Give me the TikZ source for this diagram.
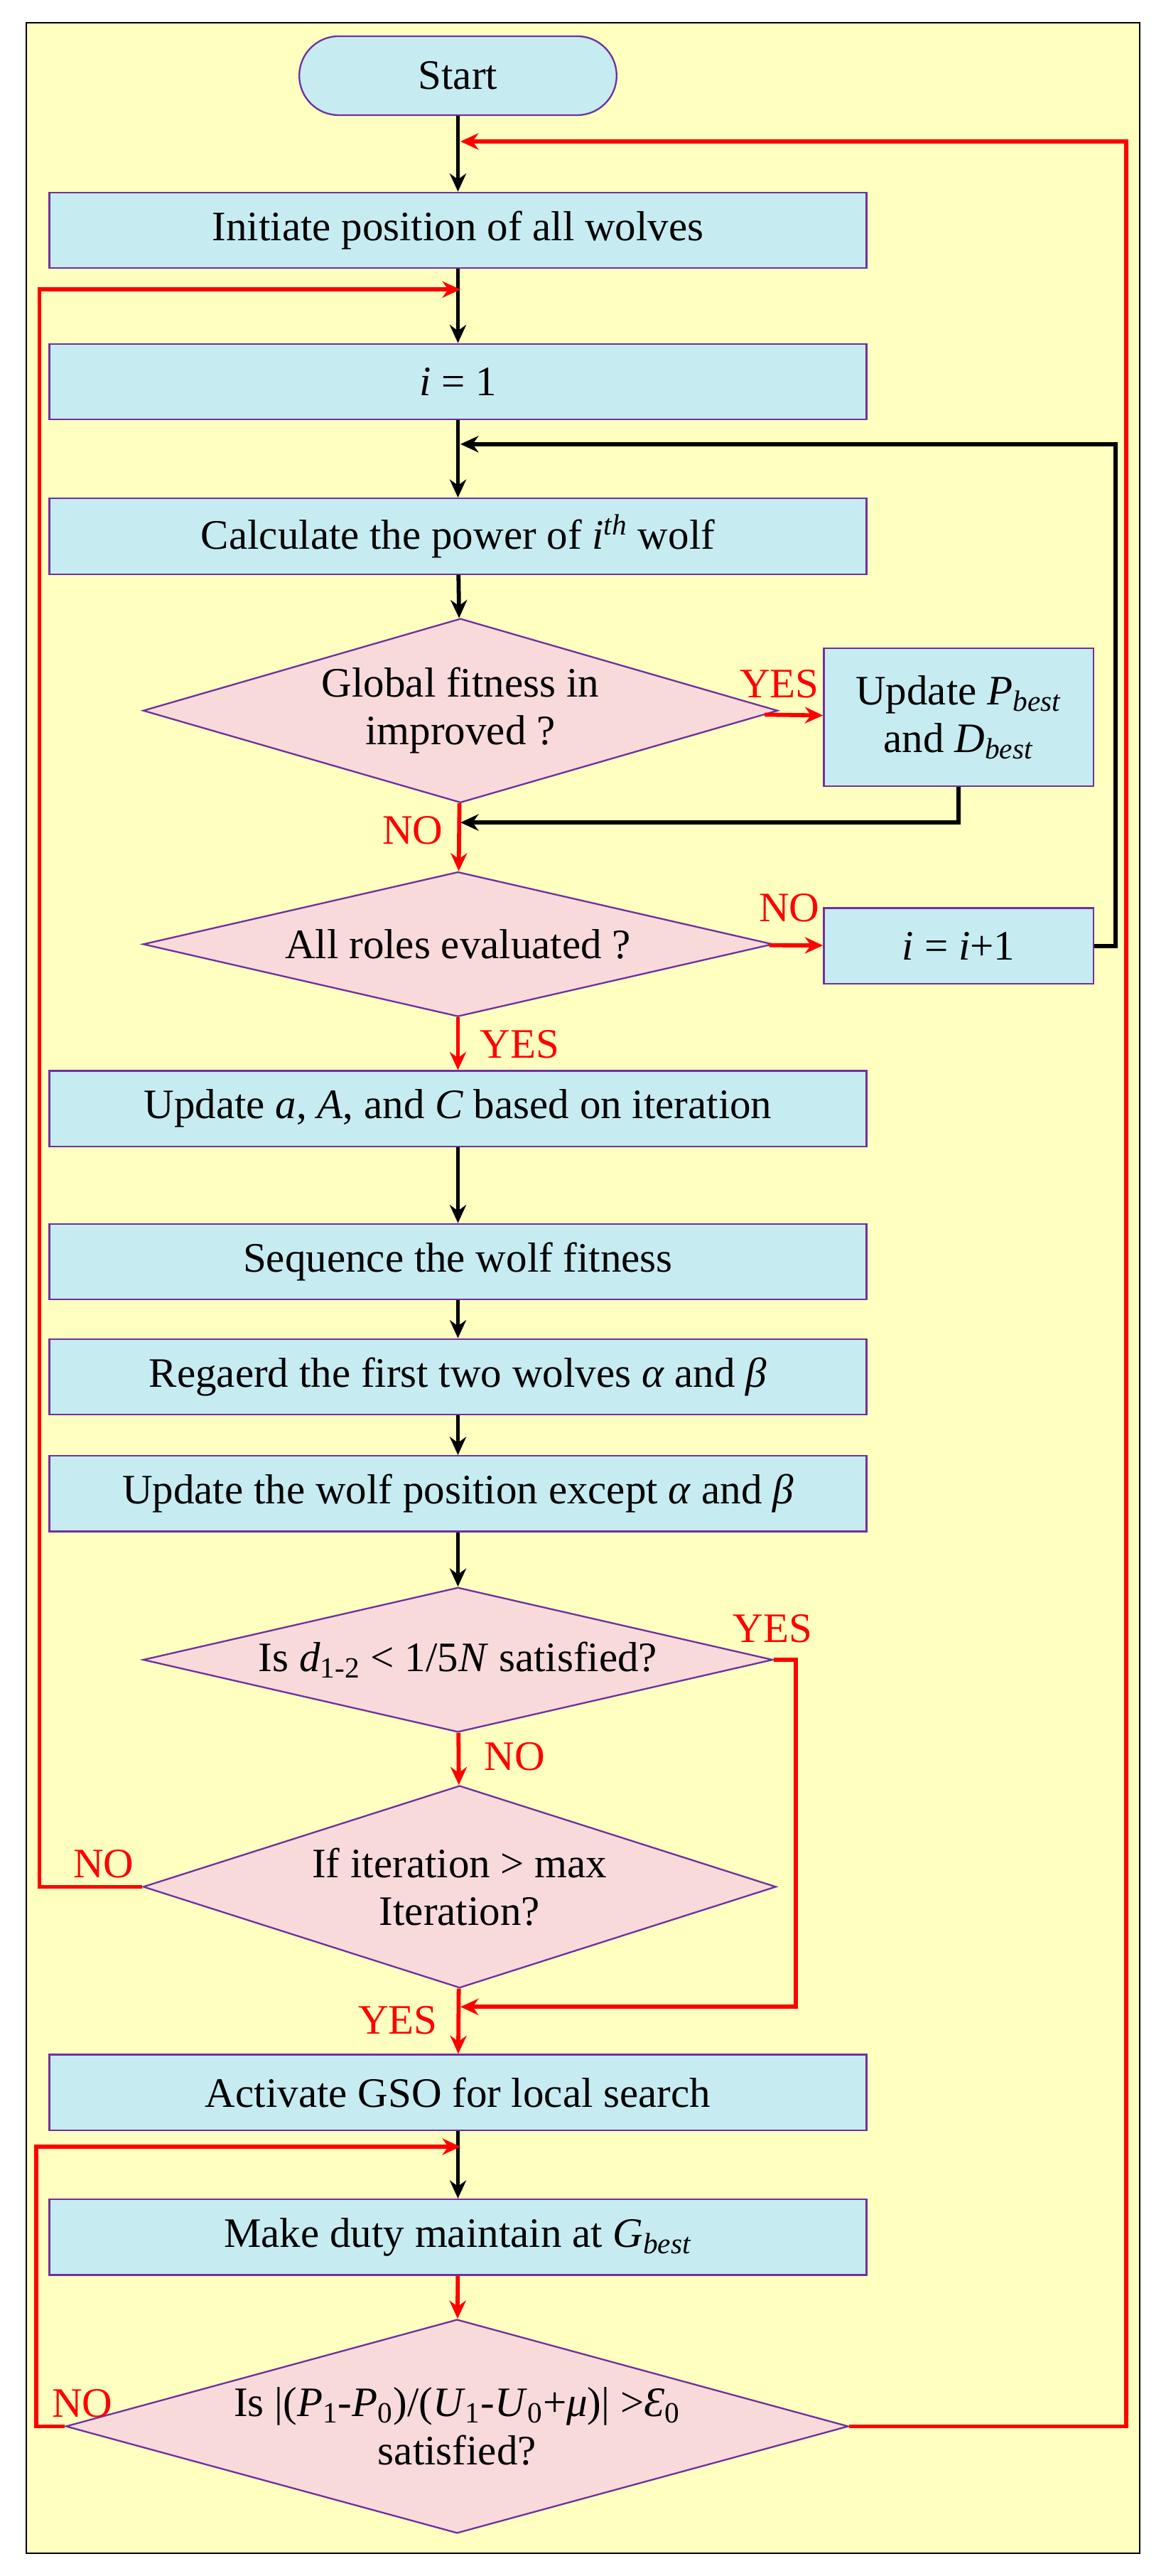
\documentclass[tikz,border=0pt]{standalone}
\usepackage{fontspec}
\setmainfont{Liberation Serif}
\usetikzlibrary{shapes.geometric,arrows.meta}
\definecolor{bg}{HTML}{FFFFC0}
\definecolor{boxf}{HTML}{C6ECF2}
\definecolor{pur}{HTML}{7030A0}
\definecolor{dia}{HTML}{F8DADA}
\definecolor{rd}{HTML}{FF0000}
\begin{document}
\begin{tikzpicture}[x=1pt,y=-1pt,
  font=\fontsize{25.5}{29}\selectfont,
  box/.style={draw=pur,fill=boxf,line width=1pt,rectangle,minimum height=46pt,inner sep=0pt,align=center},
  dmd/.style={draw=pur,fill=dia,line width=1pt,diamond,inner sep=0pt},
  dtxt/.style={align=center,inner sep=0pt},
  bk/.style={line width=2.5pt,-{Stealth[length=11pt,width=10pt]}},
  rr/.style={line width=2.5pt,rd,-{Stealth[length=11pt,width=10pt]}},
  lbl/.style={text=rd,inner sep=0pt}]
\useasboundingbox (0,0) rectangle (709,1566);
\draw[fill=bg,line width=0.8pt] (16,14) rectangle (693,1552);
\node[draw=pur,fill=boxf,line width=1pt,rounded corners=24pt,minimum width=193pt,minimum height=48pt,inner sep=0pt] (start) at (278.5,46) {Start};
\node[box,minimum width=497pt] (b1) at (278.5,140) {Initiate position of all wolves};
\node[box,minimum width=497pt] (b2) at (278.5,232) {\textit{i} = 1};
\node[box,minimum width=497pt] (b3) at (278.5,326) {Calculate the power of \textit{i}\textsuperscript{\textit{th}} wolf};
\node[dmd,minimum width=386pt,minimum height=112pt] (d1) at (280,432) {};
\node[dtxt] at (280,432) {Global fitness in\\improved ?};
\node[box,minimum width=164pt,minimum height=84pt] (sb) at (583,436) {Update \textit{P}\textsubscript{\textit{best}}\\and \textit{D}\textsubscript{\textit{best}}};
\node[dmd,minimum width=383pt,minimum height=88pt] (d2) at (278.5,574) {};
\node[dtxt] at (278.5,574) {All roles evaluated ?};
\node[box,minimum width=164pt] (inc) at (583,575) {\textit{i} = \textit{i}+1};
\node[box,minimum width=497pt] (b4) at (278.5,674) {Update \textit{a}, \textit{A}, and \textit{C} based on iteration};
\node[box,minimum width=497pt] (b5) at (278.5,767) {Sequence the wolf fitness};
\node[box,minimum width=497pt] (b6) at (278.5,837) {Regaerd the first two wolves \textit{α} and \textit{β}};
\node[box,minimum width=497pt] (b7) at (278.5,908) {Update the wolf position except \textit{α} and \textit{β}};
\node[dmd,minimum width=383pt,minimum height=88pt] (d3) at (278.5,1009) {};
\node[dtxt] at (278.5,1009) {Is \textit{d}\textsubscript{1-2} < 1/5\textit{N} satisfied?};
\node[dmd,minimum width=385pt,minimum height=123pt] (d4) at (279.5,1147) {};
\node[dtxt] at (279.5,1147) {If iteration > max\\Iteration?};
\node[box,minimum width=497pt] (b8) at (278.5,1272) {Activate GSO for local search};
\node[box,minimum width=497pt] (b9) at (278.5,1360) {Make duty maintain at \textit{G}\textsubscript{\textit{best}}};
\node[dmd,minimum width=476pt,minimum height=130pt] (d5) at (278,1475) {};
\node[dtxt] at (278,1475) {Is |(\textit{P}\textsubscript{1}-\textit{P}\textsubscript{0})/(\textit{U}\textsubscript{1}-\textit{U}\textsubscript{0}+\textit{μ})| >\textit{Ɛ}\textsubscript{0}\\satisfied?};
\coordinate (t1) at (280,86);
\coordinate (t2) at (280,176);
\coordinate (t3) at (280,270);
\coordinate (t4) at (280,500);
\coordinate (t5) at (280,1220);
\coordinate (t6) at (280,1305);
% black arrows
\draw[bk] (start) -- (b1);
\draw[bk] (b1) -- (b2);
\draw[bk] (b2) -- (b3);
\draw[bk] (b3) -- (d1);
\draw[bk] (b4) -- (b5);
\draw[bk] (b5) -- (b6);
\draw[bk] (b6) -- (b7);
\draw[bk] (b7) -- (d3);
\draw[bk] (b8) -- (b9);
\draw[bk] (inc.east) -- ++(13,0) |- (t3);
\draw[bk] (sb.south) |- (t4);
% red arrows
\draw[rr] (d1) -- (sb);
\node[lbl] at (474,416) {YES};
\draw[rr] (d1) -- (d2);
\node[lbl] at (251,505) {NO};
\draw[rr] (d2) -- (inc);
\node[lbl] at (480,552) {NO};
\draw[rr] (d2) -- (b4);
\node[lbl] at (316,635) {YES};
\draw[rr] (d3) -- (d4);
\node[lbl] at (313,1068) {NO};
\draw[rr] (d3.east) -- (484,1009) |- (t5);
\node[lbl] at (470,990) {YES};
\draw[rr] (d4) -- (b8);
\node[lbl] at (242,1228) {YES};
\draw[rr] (d4.west) -- (24,1147) |- (t2);
\node[lbl] at (63,1133) {NO};
\draw[rr] (b9) -- (d5);
\draw[rr] (d5.west) -- (22,1475) |- (t6);
\node[lbl] at (50,1461) {NO};
\draw[rr] (d5.east) -- (685,1475) |- (t1);
\end{tikzpicture}
\end{document}
